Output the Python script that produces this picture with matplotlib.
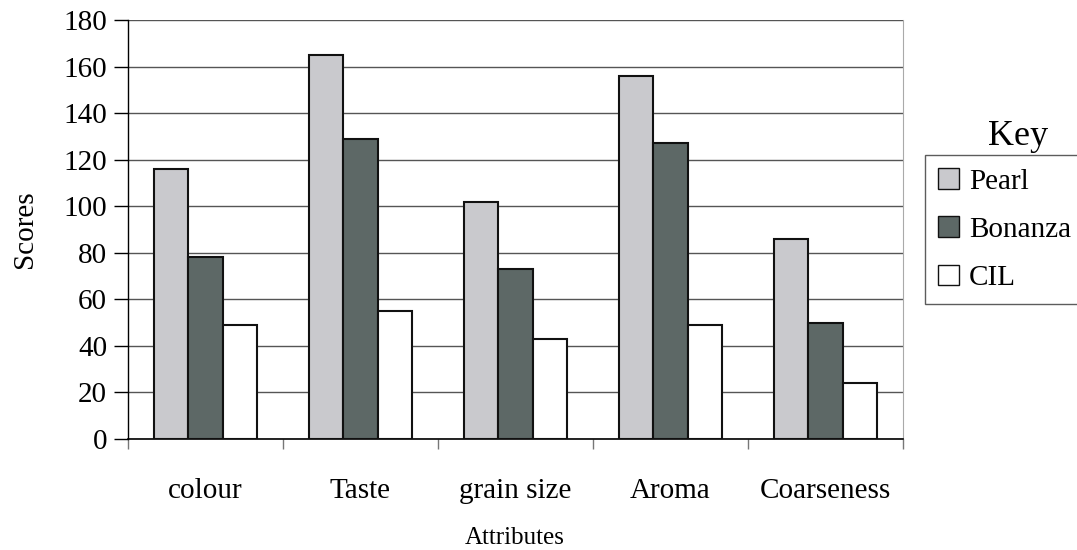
import matplotlib
matplotlib.use("Agg")
import matplotlib.pyplot as plt
import numpy as np
from matplotlib.ticker import FixedLocator

categories = ["colour", "Taste", "grain size", "Aroma", "Coarseness"]
pearl = [116, 165, 102, 156, 86]
bonanza = [78, 129, 73, 127, 50]
cil = [49, 55, 43, 49, 24]
series_names = ["Pearl", "Bonanza", "CIL"]
yticks = list(range(0, 181, 20))

plt.rcParams['font.family'] = ['Liberation Serif', 'DejaVu Serif']

fig = plt.figure(figsize=(10.77, 5.50), dpi=100)
ax = fig.add_axes([128/1077, 1 - 439/550, (903-128)/1077, (439-20)/550])

x = np.arange(len(categories))
w = 0.22
colors = ["#c9c9cd", "#5d6866", "#ffffff"]
for i, (vals, name) in enumerate(zip([pearl, bonanza, cil], series_names)):
    ax.bar(x + (i - 1) * w, vals, width=w, color=colors[i], edgecolor="#111111",
           linewidth=1.5, label=name, zorder=3)

ax.set_xlim(-0.5, len(categories) - 0.5)
ax.set_ylim(0, 180)
ax.set_yticks(yticks)
ax.yaxis.grid(True, color="#555555", linewidth=1.0, zorder=0)
ax.set_axisbelow(True)
ax.tick_params(axis='y', labelsize=21, length=10, width=1, direction='out', pad=5)

ax.set_xticks(x)
ax.set_xticklabels(categories, fontsize=21)
ax.tick_params(axis='x', which='major', length=0, pad=28)
ax.xaxis.set_minor_locator(FixedLocator(np.arange(-0.5, len(categories), 1.0)))
ax.tick_params(axis='x', which='minor', length=7, width=1, color="#777777")

ax.spines["top"].set_visible(False)
ax.spines["right"].set_color("#aaaaaa")
ax.spines["right"].set_linewidth(0.8)
ax.spines["left"].set_linewidth(1.0)
ax.spines["bottom"].set_linewidth(1.2)

ax.set_ylabel("Scores", fontsize=21, labelpad=18)
fig.text(515/1077, 1 - 538/550, "Attributes", fontsize=18, ha="center", va="center")

leg = fig.legend(loc="upper left", bbox_to_anchor=(925/1077, 1 - 155/550),
                 borderaxespad=0,
                 fontsize=21, frameon=True, fancybox=False, handlelength=0.7,
                 handleheight=0.7, handletextpad=0.35, borderpad=0.45,
                 labelspacing=0.75, edgecolor="#333333")
leg.get_frame().set_linewidth(1.0)
for h in leg.legend_handles:
    h.set_linewidth(1.0)
fig.text(1018/1077, 1 - 137/550, "Key", fontsize=26, ha="center", va="center")

fig.savefig("out.png", dpi=100, facecolor="white")
